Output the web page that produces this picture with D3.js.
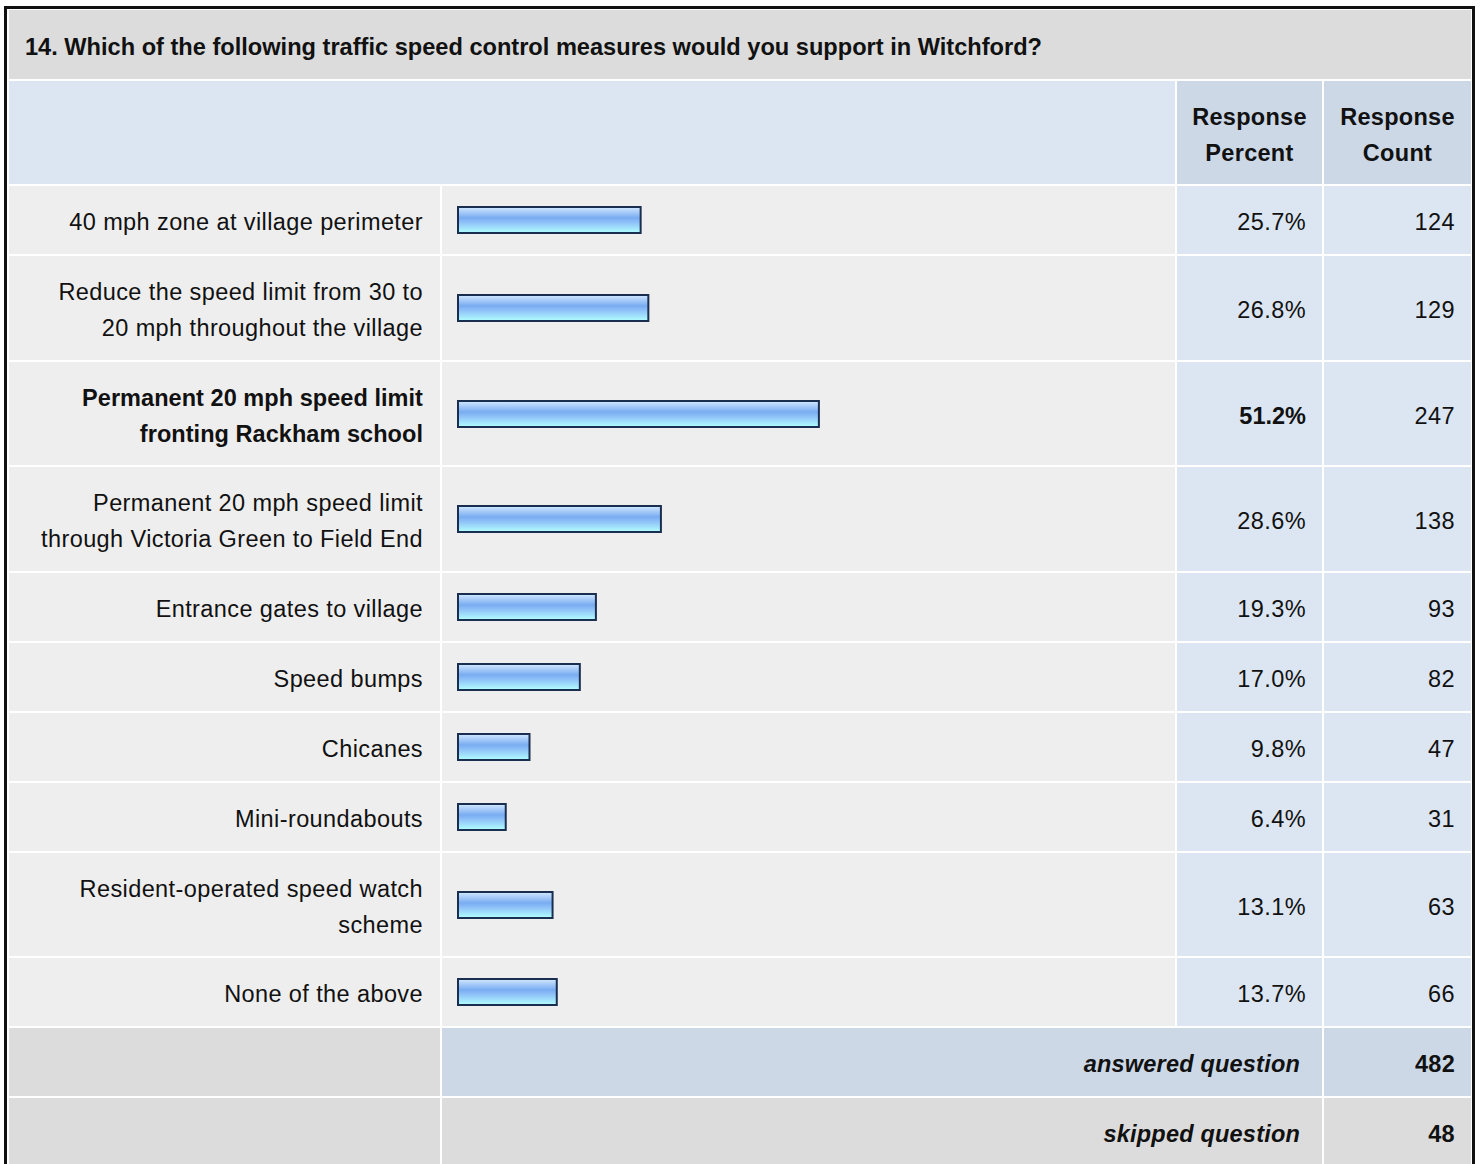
<!DOCTYPE html>
<html><head><meta charset="utf-8">
<script src="https://cdn.jsdelivr.net/npm/d3@7"></script>
<style>
body{margin:0;background:#fff}
svg{display:block}
text{font-family:"Liberation Sans",Arial,Helvetica,sans-serif;fill:#111}
</style>
</head><body><svg id="chart" width="1480" height="1164"></svg>
<script>
const title = "14. Which of the following traffic speed control measures would you support in Witchford?";
const categories = [
  ["40 mph zone at village perimeter"],
  ["Reduce the speed limit from 30 to", "20 mph throughout the village"],
  ["Permanent 20 mph speed limit", "fronting Rackham school"],
  ["Permanent 20 mph speed limit", "through Victoria Green to Field End"],
  ["Entrance gates to village"],
  ["Speed bumps"],
  ["Chicanes"],
  ["Mini-roundabouts"],
  ["Resident-operated speed watch", "scheme"],
  ["None of the above"]
];
const percents = [25.7, 26.8, 51.2, 28.6, 19.3, 17.0, 9.8, 6.4, 13.1, 13.7];
const counts = [124, 129, 247, 138, 93, 82, 47, 31, 63, 66];
const columnHeaders = [["Response", "Percent"], ["Response", "Count"]];
const summaryLabels = ["answered question", "skipped question"];
const summaryValues = [482, 48];

const svg = d3.select("#chart");
const C = {labL: 9, labR: 440, barL: 442, barR: 1175, pctL: 1177, pctR: 1322, cntL: 1324, cntR: 1471};
const FS = 23.5, LS = 0.4, DY = 2;
const maxP = d3.max(percents);

// gradient
const defs = svg.append("defs");
const g = defs.append("linearGradient").attr("id", "barGrad").attr("x1", 0).attr("y1", 0).attr("x2", 0).attr("y2", 1);
[[0, "#d2e8ff"], [0.42, "#79acf1"], [0.6, "#8fc2f8"], [1, "#b2ffff"]].forEach(([o, c]) =>
  g.append("stop").attr("offset", o).attr("stop-color", c));

function cell(x0, x1, y0, y1, fill) {
  svg.append("rect").attr("x", x0).attr("y", y0).attr("width", x1 - x0).attr("height", y1 - y0).attr("fill", fill);
}
function txt(x, y, s, anchor, weight, style) {
  return svg.append("text").attr("x", x).attr("y", y + DY).attr("text-anchor", anchor)
    .attr("dominant-baseline", "central").style("font-size", FS + "px")
    .style("letter-spacing", LS + "px")
    .style("font-weight", weight || "normal").style("font-style", style || "normal").text(s);
}

// title
cell(C.labL, C.cntR, 10, 79, "#dcdcdc");
txt(25, 45, title, "start", "bold").style("letter-spacing", "0px").style("font-size", "23.6px");

// header
cell(C.labL, C.barR, 81, 184, "#dce6f2");
cell(C.pctL, C.pctR, 81, 184, "#ccd8e6");
cell(C.cntL, C.cntR, 81, 184, "#ccd8e6");
[[C.pctL, C.pctR], [C.cntL, C.cntR]].forEach(([a, b], i) => {
  columnHeaders[i].forEach((s, j) => txt((a + b) / 2, 115 + j * 36, s, "middle", "bold").style("letter-spacing", "0.3px"));
});

// rows
const x = d3.scaleLinear().domain([0, 100]).range([5, 704]);
let y = 186;
const rows = categories.map((lines, i) => {
  const h = lines.length === 1 ? 68 : 103.5;
  const r = {i, lines, y0: Math.round(y), y1: Math.round(y + h), p: percents[i], c: counts[i]};
  y += h + 2;
  return r;
});

rows.forEach(r => {
  const bold = r.p === maxP ? "bold" : "normal";
  cell(C.labL, C.labR, r.y0, r.y1, "#eeeeee");
  cell(C.barL, C.barR, r.y0, r.y1, "#eeeeee");
  cell(C.pctL, C.pctR, r.y0, r.y1, "#dce6f2");
  cell(C.cntL, C.cntR, r.y0, r.y1, "#dce6f2");
  const cy = (r.y0 + r.y1) / 2;
  r.lines.forEach((s, j) => {
    const off = (j - (r.lines.length - 1) / 2) * 36;
    txt(423, cy + off, s, "end", bold).style("letter-spacing", bold === "bold" ? "0.05px" : LS + "px");
  });
  svg.append("rect")
    .attr("x", 458).attr("y", Math.round(cy) - 13)
    .attr("width", x(r.p) - 2).attr("height", 26)
    .attr("fill", "url(#barGrad)").attr("stroke", "#1a2f50").attr("stroke-width", 2);
  txt(1306, cy, d3.format(".1f")(r.p) + "%", "end", bold).style("letter-spacing", bold === "bold" ? "0px" : LS + "px");
  txt(1455, cy, String(r.c), "end");
});

// summary rows
let sy = y;
summaryLabels.forEach((s, i) => {
  const y0 = Math.round(sy), y1 = Math.round(sy + 68);
  const f = i === 0 ? "#ccd8e6" : "#dcdcdc";
  cell(C.labL, C.labR, y0, y1, "#dcdcdc");
  cell(C.barL, C.pctR, y0, y1, f);
  cell(C.cntL, C.cntR, y0, y1, f);
  const cy = (y0 + y1) / 2;
  txt(1300, cy, s, "end", "bold", "italic").style("letter-spacing", "0.2px");
  txt(1455, cy, String(summaryValues[i]), "end", "bold").style("letter-spacing", "0.3px");
  sy += 70;
});

// outer border
svg.append("rect").attr("x", 5.5).attr("y", 7.5).attr("width", 1468).attr("height", 1200)
  .attr("fill", "none").attr("stroke", "#111").attr("stroke-width", 3);
</script>
</body></html>
